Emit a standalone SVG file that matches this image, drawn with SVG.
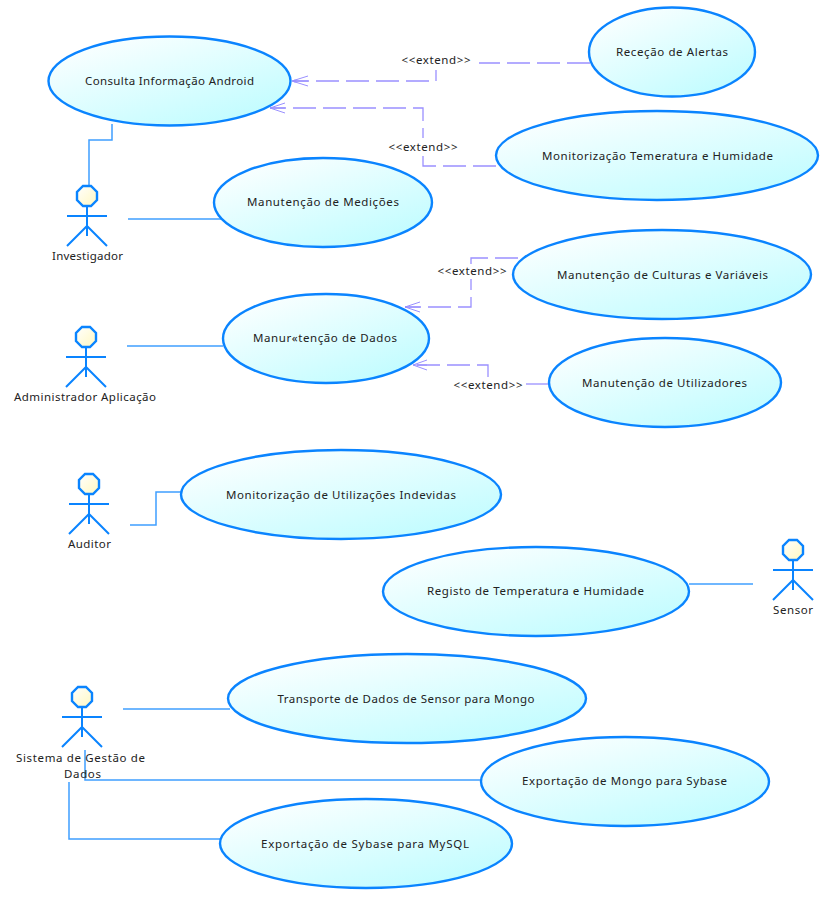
<svg xmlns="http://www.w3.org/2000/svg" width="837" height="909" viewBox="0 0 837 909">
<style>
text{font-family:"Noto Sans","Liberation Sans",Arial,sans-serif;font-size:11.5px;fill:#222;text-anchor:middle}
.uc{fill:url(#ucFill);stroke:#0a84ff;stroke-width:2.4}
.assoc{fill:none;stroke:#3f9fff;stroke-width:1.5}
.ext{fill:none;stroke:#9a90ff;stroke-width:1.3;stroke-dasharray:23 7}
.bar{fill:none;stroke:#9a90ff;stroke-width:1}
.head{fill:url(#headFill);stroke:#0a84ff;stroke-width:2.4}
.limb{fill:none;stroke:#0a84ff;stroke-width:2}
</style>
<defs>
<linearGradient id="ucFill" x1="0.1" y1="0" x2="0.9" y2="1"><stop offset="0" stop-color="#ffffff"/><stop offset="1" stop-color="#bcfcff"/></linearGradient>
<linearGradient id="headFill" x1="0" y1="0" x2="1" y2="1"><stop offset="0" stop-color="#ffffff"/><stop offset="1" stop-color="#fff8c0"/></linearGradient>
<g id="actor">
<polygon class="head" points="-4,-10 4,-10 10,-4 10,4 4,10 -4,10 -10,4 -10,-4"/>
<path class="limb" d="M0 10V40M-20 20H20M-20 50L0 30L20 50"/>
</g>
</defs>
<rect width="837" height="909" fill="#fff"/>
<g id="connectors">
<path class="assoc" d="M89 186V140H112V124"/>
<path class="assoc" d="M128 219H222"/>
<path class="assoc" d="M127 346H223"/>
<path class="assoc" d="M130 525H156V492H181"/>
<path class="assoc" d="M689 584H753"/>
<path class="assoc" d="M123 709H230"/>
<path class="assoc" d="M85 750V780H481"/>
<path class="assoc" d="M69 782V839H220"/>
<path class="ext" d="M590 63H479"/>
<path class="ext" stroke-dashoffset="12" d="M436 70V81H293"/>
<path class="bar" d="M292 81L308 76M292 81L308 86M292 81H308"/>
<circle cx="295" cy="81" r="1.500" fill="#9a90ff"/>
<path class="ext" d="M496 166H423V155"/>
<path class="ext" stroke-dashoffset="13" d="M423 138V108H270"/>
<path class="bar" d="M270 108L285 103M270 108L285 113M270 108H285"/>
<path class="ext" d="M518 258H471V265"/>
<path class="ext" stroke-dashoffset="12" d="M471 279V307H405"/>
<path class="bar" d="M405 307L420 302M405 307L420 312M405 307H420"/>
<path class="ext" d="M549 384H526"/>
<path class="ext" d="M488 377V365H413"/>
<path class="bar" d="M413 365L427 360M413 365L427 370M413 365H427"/>
</g>
<g id="uc-consulta"><ellipse class="uc" cx="169.500" cy="81" rx="121" ry="44.500"/><text x="169.500" y="85" textLength="169">Consulta Informação Android</text></g>
<g id="uc-medicoes"><ellipse class="uc" cx="323" cy="202.500" rx="109" ry="44.500"/><text x="323" y="206" textLength="152">Manutenção de Medições</text></g>
<g id="uc-rececao"><ellipse class="uc" cx="672" cy="52" rx="83" ry="44.500"/><text x="672" y="56" textLength="112">Receção de Alertas</text></g>
<g id="uc-monitorizacao"><ellipse class="uc" cx="657" cy="155.500" rx="161" ry="44.500"/><text x="657.500" y="160" textLength="231">Monitorização Temeratura e Humidade</text></g>
<g id="uc-culturas"><ellipse class="uc" cx="662" cy="274.500" rx="149" ry="44.500"/><text x="662.500" y="279" textLength="211">Manutenção de Culturas e Variáveis</text></g>
<g id="uc-utilizadores"><ellipse class="uc" cx="665" cy="382.500" rx="116" ry="44.500"/><text x="664.500" y="387" textLength="165">Manutenção de Utilizadores</text></g>
<g id="uc-dados"><ellipse class="uc" cx="326" cy="338.500" rx="103" ry="44.500"/><text x="325" y="342" textLength="144">Manur«tenção de Dados</text></g>
<g id="uc-indevidas"><ellipse class="uc" cx="341" cy="494.500" rx="160" ry="44.500"/><text x="341" y="499" textLength="230">Monitorização de Utilizações Indevidas</text></g>
<g id="uc-registo"><ellipse class="uc" cx="536" cy="591.500" rx="153" ry="44.500"/><text x="535.500" y="595" textLength="217">Registo de Temperatura e Humidade</text></g>
<g id="uc-transporte"><ellipse class="uc" cx="407" cy="698.500" rx="179" ry="44.500"/><text x="406" y="703" textLength="257">Transporte de Dados de Sensor para Mongo</text></g>
<g id="uc-mongo"><ellipse class="uc" cx="625" cy="781.500" rx="144" ry="44.500"/><text x="624.500" y="785" textLength="205">Exportação de Mongo para Sybase</text></g>
<g id="uc-sybase"><ellipse class="uc" cx="366" cy="843.500" rx="146" ry="44.500"/><text x="365" y="848" textLength="208">Exportação de Sybase para MySQL</text></g>
<g id="actor-investigador"><use href="#actor" x="87" y="196"/><text x="87.500" y="260" textLength="71">Investigador</text></g>
<g id="actor-administrador"><use href="#actor" x="86" y="337"/><text x="85" y="401" textLength="142">Administrador Aplicação</text></g>
<g id="actor-auditor"><use href="#actor" x="89" y="484"/><text x="89.500" y="548" textLength="43">Auditor</text></g>
<g id="actor-sensor"><use href="#actor" x="793" y="550"/><text x="793" y="614" textLength="40">Sensor</text></g>
<g id="actor-sistema"><use href="#actor" x="82" y="697"/><text x="80.500" y="762" textLength="129">Sistema de Gestão de</text><text x="82.500" y="778" textLength="37">Dados</text></g>
<g id="extend-labels">
<text x="436" y="64" textLength="69">&lt;&lt;extend&gt;&gt;</text>
<text x="423" y="151" textLength="69">&lt;&lt;extend&gt;&gt;</text>
<text x="472" y="275" textLength="69">&lt;&lt;extend&gt;&gt;</text>
<text x="488" y="389" textLength="69">&lt;&lt;extend&gt;&gt;</text>
</g>
</svg>
